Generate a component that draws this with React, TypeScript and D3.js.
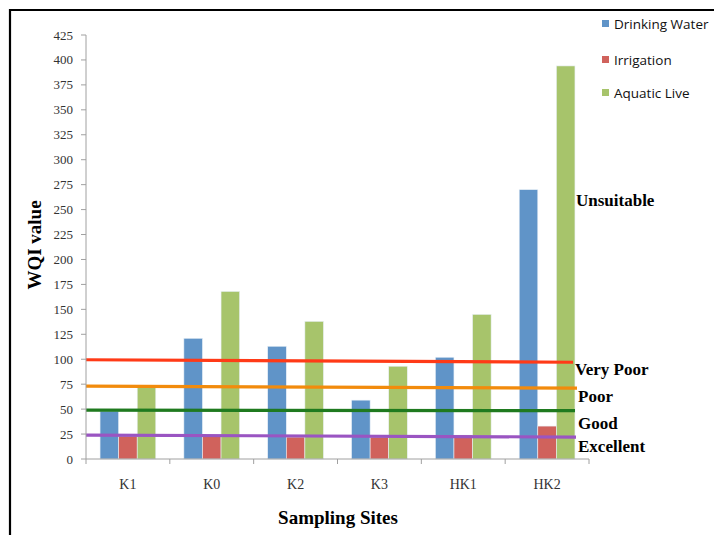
import React from 'react';
import * as d3 from 'd3';

const sites = ['K1', 'K0', 'K2', 'K3', 'HK1', 'HK2'];
const seriesNames = ['Drinking Water', 'Irrigation', 'Aquatic Live'];
const seriesColors = ['#6094c8', '#d0625c', '#a7c46b'];
const drinking = [48, 121, 113, 59, 102, 270];
const irrigation = [23, 23, 22, 22, 24, 33];
const aquatic = [73, 168, 138, 93, 145, 394];
const yTicks = d3.range(0, 426, 25);

// quality class lines: label, value at left end, value at right end
const classNames = ['Very Poor', 'Poor', 'Good', 'Excellent'];
const classStart = [99.5, 73, 49, 24];
const classEnd = [97, 71, 48.5, 22];
const classColors = ['#ff3a17', '#f28b0c', '#1f7a1f', '#9a55c2'];

const W = 714;
const H = 535;
const margin = { left: 86, right: 125, top: 35, bottom: 76 };

const App: React.FC = () => {
  const x = d3.scaleBand<string>()
    .domain(sites)
    .range([margin.left, W - margin.right])
    .paddingInner(0.335)
    .paddingOuter(0.1675);
  const step = x.step();
  const sub = d3.scaleBand<string>()
    .domain(seriesNames)
    .range([0, x.bandwidth()]);
  const y = d3.scaleLinear().domain([0, 425]).range([H - margin.bottom, margin.top]);
  const values = [drinking, irrigation, aquatic];
  const serif = '"Liberation Serif", "Times New Roman", serif';
  const x0 = margin.left;
  const x1 = W - margin.right;
  const lineEnd = [573, 577, 575, 576];
  const labelY = [369, 396, 423, 446];

  return (
    <svg width={W} height={H} style={{ position: 'absolute', left: 0, top: 0, background: '#fff' }}>
      {/* frame */}
      <path d={`M10,${H} L10,10 L${W},10`} fill="none" stroke="#000" strokeWidth={2.2} />

      {/* bars */}
      {sites.map((s, i) => (
        <g key={s} transform={`translate(${x(s)},0)`}>
          {seriesNames.map((n, j) => (
            <rect
              key={n}
              x={sub(n)}
              y={y(values[j][i])}
              width={sub.bandwidth()}
              height={y(0) - y(values[j][i])}
              fill={seriesColors[j]}
              stroke="#e9f0f7"
              strokeWidth={0.6}
            />
          ))}
        </g>
      ))}

      {/* class lines */}
      {classNames.map((c, i) => (
        <line
          key={c}
          x1={x0}
          x2={lineEnd[i]}
          y1={y(classStart[i])}
          y2={y(classEnd[i])}
          stroke={classColors[i]}
          strokeWidth={3.2}
        />
      ))}

      {/* y axis */}
      <line x1={x0} x2={x0} y1={y(0)} y2={y(425)} stroke="#a0a0a0" strokeWidth={1} />
      {yTicks.map(t => (
        <g key={t}>
          <line x1={x0 - 5} x2={x0} y1={y(t)} y2={y(t)} stroke="#a0a0a0" />
          <text x={73} y={y(t)} dy="0.35em" textAnchor="end" fontFamily={serif} fontSize={13} fill="#333">{t}</text>
        </g>
      ))}

      {/* x axis */}
      <line x1={x0} x2={x1} y1={y(0)} y2={y(0)} stroke="#a0a0a0" strokeWidth={1} />
      {d3.range(sites.length + 1).map(k => (
        <line key={k} x1={x0 + k * step} x2={x0 + k * step} y1={y(0)} y2={y(0) + 5} stroke="#a0a0a0" />
      ))}
      {sites.map(s => (
        <text key={s} x={x(s)! + x.bandwidth() / 2} y={484} dy="0.35em" textAnchor="middle" fontFamily={serif} fontSize={14} fill="#333">{s}</text>
      ))}

      {/* class labels */}
      <text x={576} y={200} dy="0.35em" fontFamily={serif} fontSize={17} fontWeight="bold">Unsuitable</text>
      {classNames.map((c, i) => (
        <text key={c} x={i === 0 ? 575 : 578} y={labelY[i]} dy="0.35em" fontFamily={serif} fontSize={17} fontWeight="bold">{c}</text>
      ))}

      {/* axis titles */}
      <text x={338} y={517} dy="0.35em" textAnchor="middle" fontFamily={serif} fontSize={19} fontWeight="bold">Sampling Sites</text>
      <text transform="translate(34,245) rotate(-90)" dy="0.35em" textAnchor="middle" fontFamily={serif} fontSize={19} fontWeight="bold">WQI value</text>

      {/* legend */}
      {seriesNames.map((n, i) => {
        const ly = [24, 60, 93][i];
        return (
          <g key={n}>
            <rect x={602} y={ly - 4} width={7} height={7} fill={seriesColors[i]} />
            <text x={614} y={ly} dy="0.35em" fontFamily='"Open Sans", sans-serif' fontSize={13.5} fill="#111">{n}</text>
          </g>
        );
      })}
    </svg>
  );
};

export default App;
